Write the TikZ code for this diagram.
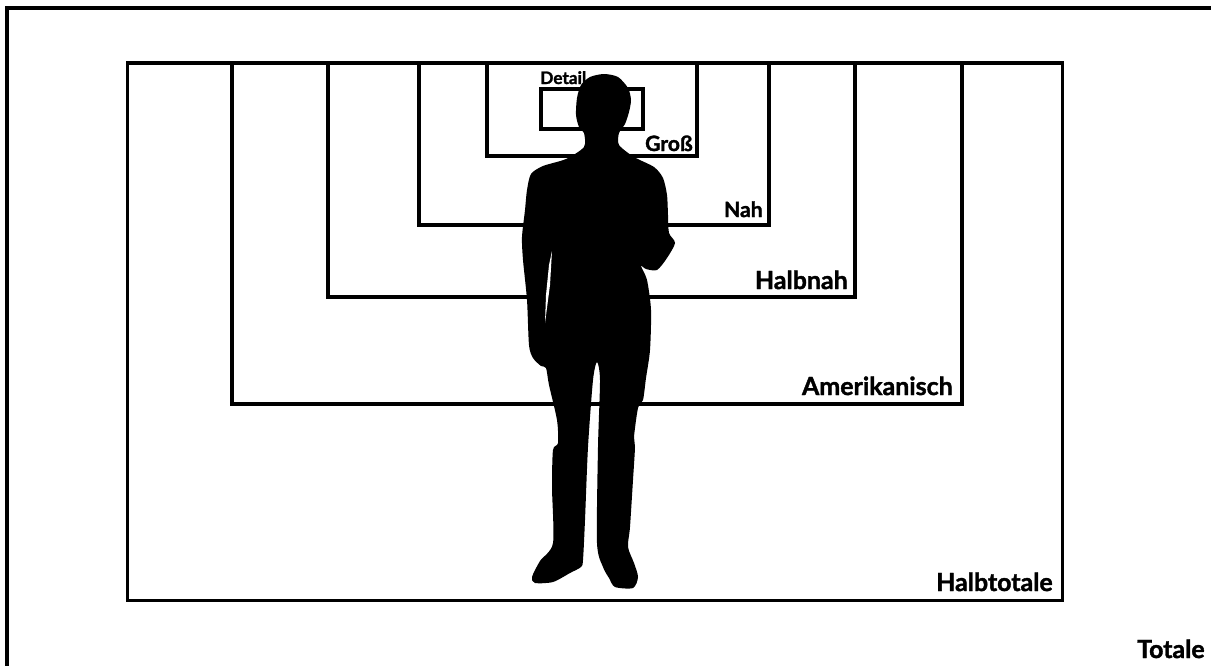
\documentclass[tikz,border=0pt]{standalone}
\usepackage{fontspec}
\setmainfont{Lato}[BoldFeatures={FakeBold=1.5}]

\begin{document}
\begin{tikzpicture}[x=0.02cm, y=-0.02cm]
\tikzset{
    frame/.style = {draw=black, line width=2pt},
    shot/.style = {inner sep=0pt, anchor=base east, font=\bfseries\fontsize{14.2}{16}\selectfont},
    midshot/.style = {shot, font=\bfseries\fontsize{12}{14}\selectfont},
    tinyshot/.style = {shot, anchor=base west, font=\bfseries\fontsize{9.8}{11}\selectfont},
}
\useasboundingbox (0,0) rectangle (1211,666);

    % outer frame (Totale), only top and left are visible
    \draw[line width=2.6pt] (7,666) -- (7,8) -- (1211,8);

    % the nested frames, all sharing the top line
    \draw[frame] (127.5,63) rectangle (1062.5,600.5);
    \draw[frame] (232,63) rectangle (962,404);
    \draw[frame] (328,63) rectangle (855,297);
    \draw[frame] (419,63) rectangle (769,225);
    \draw[frame] (487,63) rectangle (697,156);
    \draw[frame] (541,89) rectangle (643,129);

    \node[shot] (totale) at (1205,658) {Totale};
    \node[shot] (halbtotale) at (1053,591) {Halbtotale};
    \node[shot] (amerikanisch) at (953,395) {Amerikanisch};
    \node[shot] (halbnah) at (848,289) {Halbnah};
    \node[midshot] (nah) at (763,217) {Nah};
    \node[midshot] (gross) at (693,151) {Groß};
    \node[tinyshot] (detail) at (540,84) {Detail};

    % standing person
    \fill[black] plot[smooth cycle, tension=0.45] coordinates {
        (604,74) (618,77) (628,88) (631,100) (629,112) (625,124) (619,133)
        (619,145) (634,157) (654,167) (663,178) (667,195) (668,215) (669,233)
        (675,243) (667,258) (657,270) (646,269) (641,266) (647,280) (651,310)
        (650,350) (646,378) (643,400) (638,408) (634,437) (635,447) (633,480)
        (630,527) (628,547) (634,563) (638,577) (633,588) (615,587) (609,578)
        (603,567) (597,543) (598,447) (600,380) (597,362) (593,380) (588,447)
        (585,520) (583,560) (581,567) (570,573) (553,582) (535,583) (532,577)
        (540,561) (553,543) (552,487) (553,450) (558,443) (557,420) (549,385)
        (546,368) (541,366) (533,358) (529,345) (527,300) (523,260) (522,237)
        (525,210) (527,190) (531,174) (543,166) (566,159) (584,147) (584,133)
        (579,127) (576,115) (577,98) (581,85) (590,77)
    };
    % gap between left arm and body
    \fill[white] (552,251) -- (550,285) -- (545,323) -- (546,295) -- (549,265) -- cycle;
\end{tikzpicture}
\end{document}
